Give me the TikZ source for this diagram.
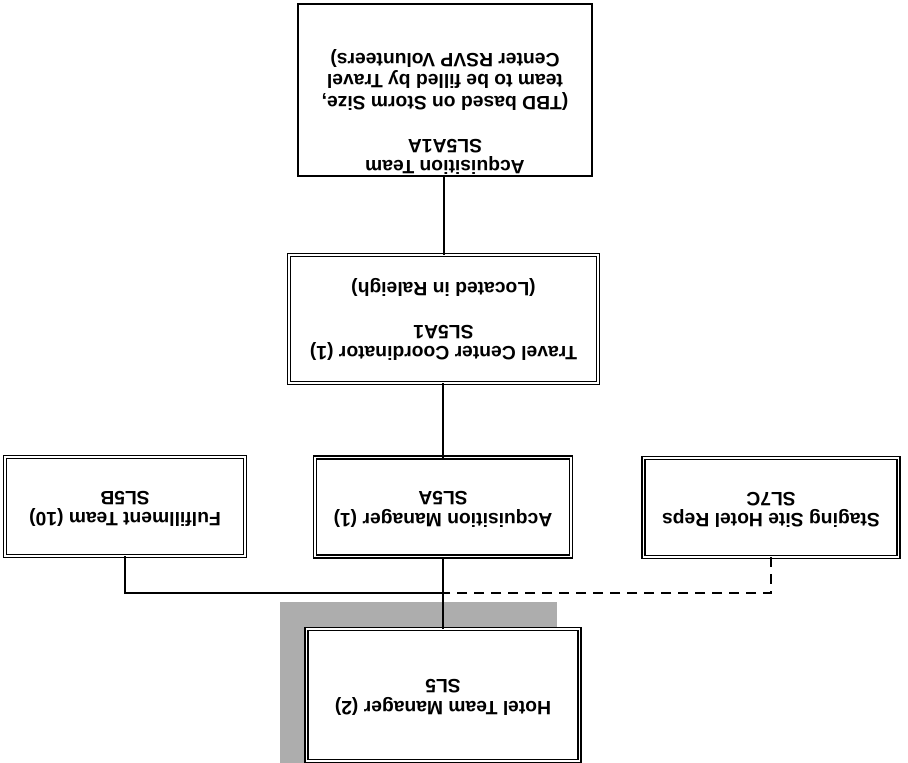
\documentclass[tikz,border=0pt]{standalone}
\usepackage{fontspec}
\usepackage{graphicx}
\setmainfont{Liberation Sans}
% every label is printed turned half a circle
\newcommand{\flipped}[1]{\rotatebox[origin=c]{180}{\begin{tabular}{@{}c@{}}#1\end{tabular}}}
\begin{document}
\begin{tikzpicture}[x=1pt,y=-1pt,
  every node/.style={inner sep=0pt, outer sep=0pt},
  txt/.style={font=\bfseries\fontsize{19.3}{21.5}\selectfont},
  plainbox/.style={draw=black, line width=2pt, fill=white},
  dblbox/.style={draw=black, line width=1.5pt, double=white, double distance=1.5pt, fill=white, txt},
  conn/.style={draw=black, line width=2pt},
  dashconn/.style={conn, dash pattern=on 10pt off 7pt},
  shade/.style={fill=black!32, draw=none}]
\useasboundingbox (0,0) rectangle (908,763);

% shadow behind the manager box
\fill[shade] (280,602) rectangle (557,763);

% boxes
\node[plainbox, minimum width=294pt, minimum height=172pt] (acqteam) at (445,90) {};
\node[txt] (acqteamtext) at (445,111.5) {\flipped{Acquisition Team\\SL5A1A\\ \\(TBD based on Storm Size,\\team to be filled by Travel\\Center RSVP Volunteers)}};

\node[dblbox, minimum width=309pt, minimum height=128pt] (travel) at (443.5,319)
  {\flipped{Travel Center Coordinator (1)\\SL5A1\\ \\(Located in Raleigh)}};

\node[dblbox, minimum width=240pt, minimum height=99pt] (fulfil) at (125,506.5)
  {\flipped{Fulfillment Team (10)\\SL5B}};
\node[dblbox, minimum width=256pt, minimum height=99pt] (acqmgr) at (443,507)
  {\flipped{Acquisition Manager (1)\\SL5A}};
\node[dblbox, minimum width=255pt, minimum height=99pt] (staging) at (771,507.5)
  {\flipped{Staging Site Hotel Reps\\SL7C}};

\node[dblbox, minimum width=273pt, minimum height=132pt] (hotel) at (443,695)
  {\flipped{Hotel Team Manager (2)\\SL5}};

% connectors
\coordinate (bus) at (0,593);
\draw[conn] (travel.north) -- (travel.north |- acqteam.south);
\draw[conn] (acqmgr.north) -- (acqmgr.north |- travel.south);
\draw[conn] (hotel.north) -- (acqmgr.south);
\draw[conn] (fulfil.south) |- (acqmgr.south |- bus);
\draw[dashconn] (staging.south) |- (acqmgr.south |- bus);
\end{tikzpicture}
\end{document}
